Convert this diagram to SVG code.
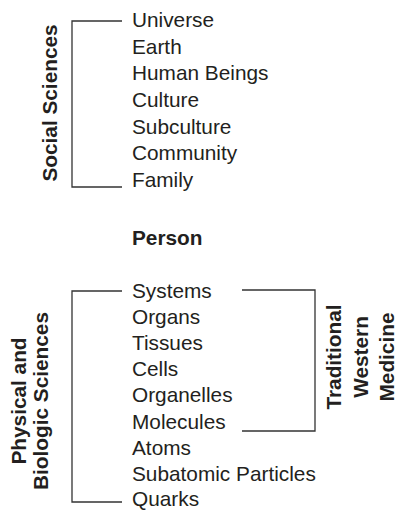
<svg xmlns="http://www.w3.org/2000/svg" width="399" height="513" viewBox="0 0 399 513">
<style>
text{font-family:"Liberation Sans",Arial,sans-serif;font-size:20.8px;fill:#231f20}
.b{font-weight:bold}
.v{text-anchor:middle}
.ln{fill:none;stroke:#333;stroke-width:1.3}
</style>
<rect width="399" height="513" fill="#fff"/>
<g id="connectors">
<path class="ln" d="M122,21 H72 V187 H122"/>
<path class="ln" d="M122,291 H72 V502 H122"/>
<path class="ln" d="M242,290 H315 V431 H242"/>
</g>
<g id="social-sciences">
<text class="b v" transform="translate(57,103) rotate(-90)">Social Sciences</text>
</g>
<g id="upper-levels">
<text x="132" y="27">Universe</text>
<text x="132" y="54">Earth</text>
<text x="132" y="80">Human Beings</text>
<text x="132" y="107">Culture</text>
<text x="132" y="134">Subculture</text>
<text x="132" y="160">Community</text>
<text x="132" y="187">Family</text>
</g>
<g id="person">
<text class="b" x="132" y="245">Person</text>
</g>
<g id="lower-levels">
<text x="132" y="298">Systems</text>
<text x="132" y="324">Organs</text>
<text x="132" y="350">Tissues</text>
<text x="132" y="376">Cells</text>
<text x="132" y="402">Organelles</text>
<text x="132" y="429">Molecules</text>
<text x="132" y="455">Atoms</text>
<text x="132" y="481">Subatomic Particles</text>
<text x="132" y="506">Quarks</text>
</g>
<g id="physical-biologic-sciences">
<text class="b v" transform="translate(26,401) rotate(-90)">Physical and</text>
<text class="b v" transform="translate(48,401) rotate(-90)">Biologic Sciences</text>
</g>
<g id="traditional-western-medicine">
<text class="b v" transform="translate(341,357) rotate(-90)">Traditional</text>
<text class="b v" transform="translate(368,357) rotate(-90)">Western</text>
<text class="b v" transform="translate(394,357) rotate(-90)">Medicine</text>
</g>
</svg>
